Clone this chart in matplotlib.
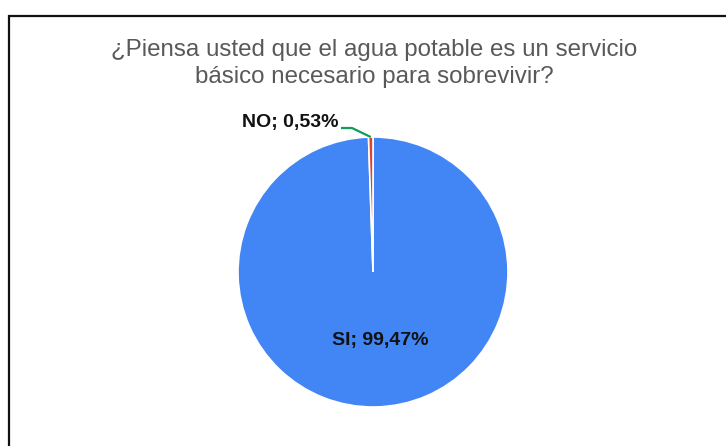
import numpy as np
import matplotlib.pyplot as plt
from matplotlib.patches import Rectangle

plt.rcParams['font.family'] = ['Liberation Sans', 'DejaVu Sans']

# ─── Data ─────────────────────────────────────────────────────────────────────

labels = ['SI', 'NO']
values = [99.47, 0.53]
colors = ['#4285F4', '#DB4437']
title = '¿Piensa usted que el agua potable es un servicio\nbásico necesario para sobrevivir?'

# ─── Figure ───────────────────────────────────────────────────────────────────

W, H = 726, 446
fig = plt.figure(figsize=(W / 100, H / 100), dpi=100, facecolor='white')

# frame around the chart (runs off the right and bottom edges)
fig.patches.append(Rectangle((9 / W, -0.1), 1.2, (H - 16) / H + 0.1,
                             transform=fig.transFigure, fill=False,
                             edgecolor='#111111', linewidth=1.6))

fig.text(374 / W, 1 - 39 / H, title, ha='center', va='top',
         fontsize=17.4, color='#595959', linespacing=1.3)

cx, cy, r = 373, 272, 135
ax = fig.add_axes([(cx - r) / W, (H - cy - r) / H, 2 * r / W, 2 * r / H])
ax.pie(values, colors=colors, startangle=90, counterclock=False,
       wedgeprops=dict(edgecolor='white', linewidth=1.2))
ax.set_xlim(-1, 1)
ax.set_ylim(-1, 1)
ax.set_aspect('equal')
ax.axis('off')

def px(x, y):
    return (x - cx) / r, (cy - y) / r

# NO label with leader line
ang = np.deg2rad(90 + values[1] / 100 * 360 / 2)
start = (np.cos(ang), np.sin(ang))
elbow = px(352, 128)
end = px(341, 128)
ax.plot([start[0], elbow[0], end[0]], [start[1], elbow[1], end[1]],
        color='#0F9D58', linewidth=1.6, clip_on=False, solid_capstyle='butt')
tx, ty = px(338, 123)
ax.text(tx, ty, f'{labels[1]}; {values[1]:.2f}%'.replace('.', ','),
        ha='right', va='center', fontsize=14, fontweight='bold', color='#111111')

# SI label inside the pie
tx, ty = px(380, 341)
ax.text(tx, ty, f'{labels[0]}; {values[0]:.2f}%'.replace('.', ','),
        ha='center', va='center', fontsize=14, fontweight='bold', color='#111111')

fig.savefig('out.png', dpi=100, facecolor='white')
